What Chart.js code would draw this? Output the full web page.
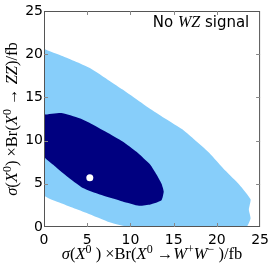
<!DOCTYPE html>
<html lang="en">
<head>
  <meta charset="UTF-8" />
  <title>No WZ signal</title>
  <script src="https://cdn.jsdelivr.net/npm/chart.js"></script>
  <style>
    body { margin: 0; padding: 0; background: #fff; }
    #wrap { width: 274px; height: 267px; }
  </style>
</head>
<body>
  <div id="wrap"><canvas id="contour" width="274" height="267"></canvas></div>

  <script>
    // axis ticks
    const xTicks = [0, 5, 10, 15, 20, 25];
    const yTicks = [0, 5, 10, 15, 20, 25];

    // outer (light) contour
    const outerX = [0, 2.2, 5.3, 7.6, 9.1, 11.1, 12.4, 14.1, 16.0, 17.2, 19.1, 21.0, 22.6, 23.9, 23.7, 23.9, 23.4, 9.9, 7.6, 5.0, 3.4, 1.85, 0, 0];
    const outerY = [20.6, 19.75, 18.4, 16.9, 15.9, 14.5, 13.6, 12.5, 11.3, 10.3, 8.6, 6.5, 4.9, 3.2, 2.0, 1.0, 0, 0, 0.55, 1.6, 2.2, 2.8, 3.7, 20.6];

    // inner (dark) contour
    const innerX = [0, 2.0, 4.1, 5.3, 7.2, 9.1, 10.7, 12.3, 13.0, 13.6, 13.85, 13.6, 12.3, 11.0, 9.1, 6.45, 4.5, 2.6, 1.07, 0, 0];
    const innerY = [13.0, 13.2, 12.6, 12.05, 11.0, 9.9, 8.7, 7.2, 6.1, 5.0, 4.1, 3.1, 2.6, 2.45, 2.95, 3.75, 4.5, 5.9, 7.2, 8.2, 13.0];

    // best fit point
    const bestX = [5.3];
    const bestY = [5.7];

    const pts = (xs, ys) => xs.map((x, i) => ({ x, y: ys[i] }));

    const serif = '"Liberation Serif", serif';
    const S = 16.5;
    const it = `italic ${S}px ${serif}`;
    const rm = `${S}px ${serif}`;
    const sup = `${Math.round(S * 0.7)}px ${serif}`;

    const xLabel = [['σ', it], ['(', rm], ['X', it], ['0', sup, -6], [' )', rm], [' ×', rm], ['Br(', rm],
      ['X', it], ['0', sup, -6], [' →', rm], ['W', it], ['+', sup, -6], ['W', it], ['−', sup, -6], [' )/fb', rm]];
    const yLabel = [['σ', it], ['(', rm], ['X', it], ['0', sup, -6], [')', rm], [' ×', rm], ['Br(', rm],
      ['X', it], ['0', sup, -6], [' → ', rm], ['ZZ', it], [')/fb', rm]];
    const sans = '15px "DejaVu Sans", sans-serif';
    const titleRuns = [['No ', sans], ['WZ', `italic 16px ${serif}`], [' signal', sans]];

    function drawRuns(ctx, runs, x, y) {
      let total = 0;
      runs.forEach(r => { ctx.font = r[1]; total += ctx.measureText(r[0]).width; });
      let cx = x - total / 2;
      ctx.textAlign = 'left';
      ctx.textBaseline = 'alphabetic';
      runs.forEach(r => {
        ctx.font = r[1];
        ctx.fillText(r[0], cx, y + (r[2] || 0));
        cx += ctx.measureText(r[0]).width;
      });
    }

    const frame = {
      id: 'frame',
      afterDatasetsDraw(chart) {
        const { ctx, chartArea: a, scales: { x, y } } = chart;
        ctx.save();
        ctx.strokeStyle = '#555';
        ctx.lineWidth = 1;
        ctx.strokeRect(a.left + 0.5, a.top + 0.5, a.right - a.left - 1, a.bottom - a.top - 1);
        ctx.strokeStyle = '#888';
        ctx.beginPath();
        xTicks.slice(1, -1).forEach(v => {
          const px = Math.round(x.getPixelForValue(v)) + 0.5;
          ctx.moveTo(px, a.bottom); ctx.lineTo(px, a.bottom - 4);
          ctx.moveTo(px, a.top); ctx.lineTo(px, a.top + 4);
        });
        yTicks.slice(1, -1).forEach(v => {
          const py = Math.round(y.getPixelForValue(v)) + 0.5;
          ctx.moveTo(a.left, py); ctx.lineTo(a.left + 4, py);
          ctx.moveTo(a.right, py); ctx.lineTo(a.right - 4, py);
        });
        ctx.stroke();

        ctx.fillStyle = '#000';
        drawRuns(ctx, titleRuns, 201, 27);
        drawRuns(ctx, xLabel, (a.left + a.right) / 2, 259);
        ctx.translate(17, (a.top + a.bottom) / 2);
        ctx.rotate(-Math.PI / 2);
        drawRuns(ctx, yLabel, 0, 0);
        ctx.restore();
      }
    };

    new Chart(document.getElementById('contour'), {
      type: 'scatter',
      data: {
        datasets: [
          {
            data: pts(outerX, outerY),
            showLine: true, fill: 'shape', tension: 0.15,
            borderWidth: 0, pointRadius: 0,
            backgroundColor: '#87cefa', borderColor: '#87cefa',
            order: 3
          },
          {
            data: pts(innerX, innerY),
            showLine: true, fill: 'shape', tension: 0.15,
            borderWidth: 0, pointRadius: 0,
            backgroundColor: '#000080', borderColor: '#000080',
            order: 2
          },
          {
            data: pts(bestX, bestY),
            pointRadius: 3.5, pointBorderWidth: 0,
            backgroundColor: '#fff',
            order: 1
          }
        ]
      },
      options: {
        responsive: false,
        animation: false,
        layout: { padding: { top: 11, right: 13, left: 0, bottom: 0 } },
        plugins: { legend: { display: false }, tooltip: { enabled: false } },
        scales: {
          x: {
            type: 'linear', min: 0, max: 25,
            afterBuildTicks: s => { s.ticks = xTicks.map(v => ({ value: v })); },
            afterFit: s => { s.height = 40; },
            grid: { display: false, drawTicks: false },
            border: { display: false },
            ticks: { padding: 5, color: '#000', maxRotation: 0, font: { family: 'DejaVu Sans', size: 14 } }
          },
          y: {
            type: 'linear', min: 0, max: 25,
            afterBuildTicks: s => { s.ticks = yTicks.map(v => ({ value: v })); },
            afterFit: s => { s.width = 44; },
            grid: { display: false, drawTicks: false },
            border: { display: false },
            ticks: { padding: 1, color: '#000', font: { family: 'DejaVu Sans', size: 14 } }
          }
        }
      },
      plugins: [frame]
    });
  </script>
</body>
</html>
